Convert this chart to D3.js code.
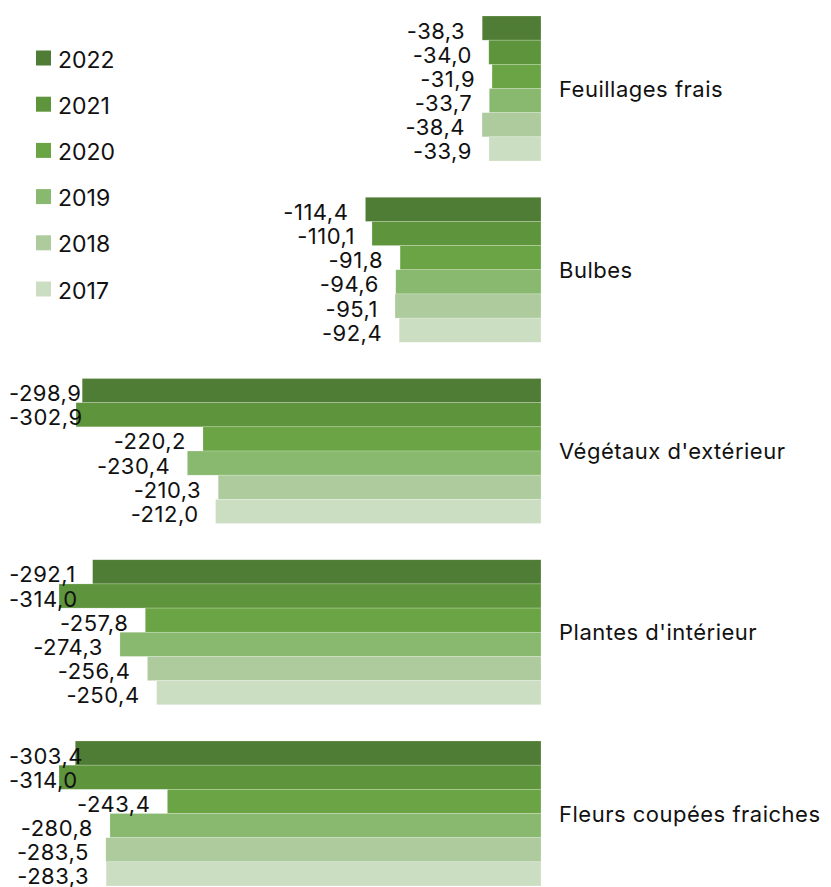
<!DOCTYPE html>
<html>
<head>
<meta charset="utf-8">
<script src="https://cdn.jsdelivr.net/npm/d3@7"></script>
<style>
  body { margin: 0; background: #fff; }
  text { font-family: Inter, "Noto Sans", sans-serif; fill: #111; }
</style>
</head>
<body>
<div id="root"></div>
<script>
// Categories (top to bottom) and years (top to bottom within a group)
const categories = ['Feuillages frais', 'Bulbes', "Végétaux d'extérieur", "Plantes d'intérieur", 'Fleurs coupées fraiches'];
const years = ['2022', '2021', '2020', '2019', '2018', '2017'];
const colours = ['#507d35', '#5e943c', '#6aa444', '#89b86f', '#adcb9c', '#cbdec2'];

// Values per year, in category order
const v2022 = [-38.3, -114.4, -298.9, -292.1, -303.4];
const v2021 = [-34.0, -110.1, -302.9, -314.0, -314.0];
const v2020 = [-31.9, -91.8, -220.2, -257.8, -243.4];
const v2019 = [-33.7, -94.6, -230.4, -274.3, -280.8];
const v2018 = [-38.4, -95.1, -210.3, -256.4, -283.5];
const v2017 = [-33.9, -92.4, -212.0, -250.4, -283.3];
const series = [v2022, v2021, v2020, v2019, v2018, v2017];

const width = 831;
const height = 887;
const zeroX = 541;

const chart = d3.select('#root')
  .append('svg:svg')
  .attr('width', width)
  .attr('height', height);

const x = d3.scaleLinear()
  .domain([-314, 0])
  .range([59, zeroX]);

const y0 = d3.scaleBand()
  .domain(categories)
  .range([16, 886])
  .paddingInner(0.2);

const y1 = d3.scaleBand()
  .domain(years)
  .range([0, y0.bandwidth()]);

const fmt = v => d3.format('.1f')(v).replace('.', ',').replace('−', '-');

const rows = [];
categories.forEach((c, ci) => {
  years.forEach((yr, yi) => {
    rows.push({ category: c, year: yr, value: series[yi][ci], colour: colours[yi] });
  });
});

// Bars
const groups = chart.append('svg:g');
groups.selectAll('rect')
  .data(rows)
  .enter()
    .append('svg:rect')
    .attr('x', d => x(d.value))
    .attr('y', d => y0(d.category) + y1(d.year))
    .attr('width', d => x(0) - x(d.value))
    .attr('height', y1.bandwidth())
    .attr('fill', d => d.colour)
    .attr('stroke', '#fff')
    .attr('stroke-opacity', 0.35)
    .attr('stroke-width', 0.6);

// Value labels (pushed right when they would leave the picture)
const labels = chart.append('svg:g');
labels.selectAll('text')
  .data(rows)
  .enter()
    .append('svg:text')
    .attr('text-anchor', 'end')
    .attr('font-size', 22)
    .attr('letter-spacing', 0.5)
    .attr('y', d => y0(d.category) + y1(d.year) + y1.bandwidth() / 2 + 10.5)
    .text(d => fmt(d.value))
    .each(function (d) {
      const w = this.getComputedTextLength();
      this.setAttribute('x', Math.max(x(d.value) - 17, 9 + w));
    });

// Category labels
chart.append('svg:g').selectAll('text')
  .data(categories)
  .enter()
    .append('svg:text')
    .attr('x', zeroX + 18)
    .attr('y', d => y0(d) + y0.bandwidth() / 2 + 8)
    .attr('font-size', 22)
    .attr('letter-spacing', 0.5)
    .text(d => d);

// Legend
const legend = chart.append('svg:g');
const ly = d3.scalePoint().domain(years).range([58, 289]);
const item = legend.selectAll('g')
  .data(years)
  .enter()
    .append('svg:g')
    .attr('transform', d => `translate(36,${ly(d)})`);
item.append('svg:rect')
  .attr('y', -7.5)
  .attr('width', 15)
  .attr('height', 15)
  .attr('fill', (d, i) => colours[i]);
item.append('svg:text')
  .attr('x', 22)
  .attr('y', 9.5)
  .attr('font-size', 23)
  .text(d => d);
</script>
</body>
</html>
